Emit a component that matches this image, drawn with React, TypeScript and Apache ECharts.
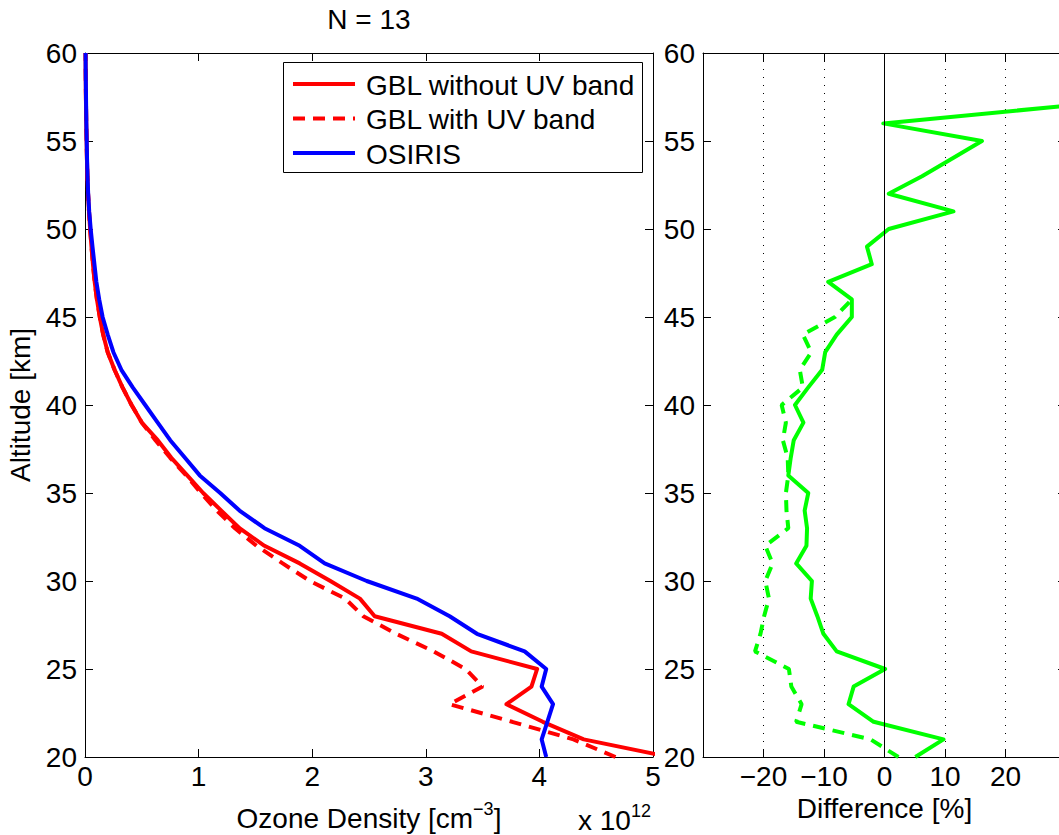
import React, { useEffect, useRef } from "react";
import * as echarts from "echarts";

const FONT = "'Liberation Sans', Arial, Helvetica, sans-serif";
const FS = 28;

// Altitude grid [km]
const altitudes = [20, 21, 22, 23, 24, 25, 26, 27, 28, 29, 30, 31, 32, 33, 34, 35, 36, 37, 38, 39, 40,
  41, 42, 43, 44, 45, 46, 47, 48, 49, 50, 51, 52, 53, 54, 55, 56, 57, 58, 59, 60];

// Ozone density [x1e12 cm^-3], alt 20 -> 60
const gblNoUV = [5.15, 4.39, 4.03, 3.71, 3.93, 3.98, 3.40, 3.14, 2.55, 2.42, 2.16, 1.89, 1.58, 1.36, 1.20,
  1.04, 0.90, 0.76, 0.64, 0.50, 0.41, 0.33, 0.26, 0.20, 0.16, 0.13, 0.105, 0.085, 0.07, 0.057, 0.045,
  0.035, 0.027, 0.021, 0.017, 0.014, 0.011, 0.009, 0.007, 0.006, 0.005];
const gblUV = [4.67, 4.30, 3.76, 3.21, 3.50, 3.35, 3.07, 2.74, 2.45, 2.29, 1.98, 1.74, 1.51, 1.32, 1.16,
  1.02, 0.89, 0.75, 0.62, 0.50, 0.41, 0.33, 0.26, 0.20, 0.16, 0.13, 0.105, 0.085, 0.07, 0.057, 0.045,
  0.035, 0.027, 0.021, 0.017, 0.014, 0.011, 0.009, 0.007, 0.006, 0.005];
const osiris = [4.06, 4.02, 4.07, 4.12, 4.02, 4.06, 3.87, 3.45, 3.21, 2.92, 2.48, 2.11, 1.89, 1.58, 1.36,
  1.19, 1.01, 0.88, 0.75, 0.64, 0.53, 0.42, 0.32, 0.25, 0.20, 0.155, 0.125, 0.10, 0.083, 0.066, 0.05,
  0.037, 0.028, 0.022, 0.018, 0.015, 0.012, 0.010, 0.008, 0.006, 0.005];

// Difference [%]
const diffAltNoUV = [20, 21, 22, 23, 24, 25, 26, 27, 28, 29, 30, 31, 32, 33, 34, 35, 36, 37, 38, 39, 40,
  41, 42, 43, 44, 45, 46, 47, 48, 49, 50, 51, 52, 53, 54, 55, 56, 57];
const diffNoUV = [5.1, 9.75, -1.8, -5.95, -5.1, 0.1, -7.9, -10.1, -11.1, -12.2, -12.0, -14.6, -12.9, -12.8,
  -13.2, -12.6, -15.9, -15.5, -15.0, -13.4, -14.8, -12.6, -10.3, -9.8, -7.9, -5.4, -5.4, -9.3, -2.1, -2.9,
  0.7, 11.4, 0.7, 6.2, 11.2, 16.1, -0.2, 30];
const diffAltUV = [20, 21, 22, 23, 24, 25, 26, 27, 28, 29, 30, 31, 32, 33, 34, 35, 36, 37, 38, 39, 40,
  41, 42, 43, 44, 45, 46];
const diffUV = [2.3, -2.3, -14.6, -13.7, -15.4, -15.8, -21.4, -20.5, -19.9, -19.1, -19.7, -18.5, -19.7,
  -15.9, -16.2, -16.3, -15.9, -16.0, -16.8, -16.3, -17.0, -13.5, -14.0, -12.1, -13.5, -8.2, -5.4];

const legendNames = ["GBL without UV band", "GBL with UV band", "OSIRIS"];

const RED = "#ff0000";
const BLUE = "#0000ff";
const GREEN = "#00ff00";
const LW = 4;
const DASH = [12, 8];

const pairs = (xs: number[], ys: number[]) => ys.map((y, i) => [xs[i], y]);

const axisBase = (extra: any = {}) => ({
  type: "value",
  axisLine: { show: true, onZero: false, lineStyle: { color: "#000", width: 1 } },
  axisTick: { show: true, inside: true, length: 8, lineStyle: { color: "#000", width: 1 } },
  splitLine: { show: false },
  axisLabel: { show: true, color: "#000", fontSize: FS, fontFamily: FONT, margin: 8 },
  ...extra,
});

const noLabel = { show: false };

const legendItems = [
  { name: legendNames[0], color: RED, dash: null as number[] | null },
  { name: legendNames[1], color: RED, dash: DASH },
  { name: legendNames[2], color: BLUE, dash: null as number[] | null },
];

export default function App() {
  const ref = useRef<HTMLDivElement>(null);
  useEffect(() => {
    if (!ref.current) return;
    const chart = echarts.init(ref.current, undefined, { renderer: "svg" });

    const legendGraphic: any[] = [
      {
        type: "rect", shape: { x: 283.5, y: 62.5, width: 359, height: 110 },
        style: { fill: "#fff", stroke: "#000", lineWidth: 1 }, z: 100,
      },
    ];
    legendItems.forEach((it, i) => {
      const cy = 84 + i * 34.5;
      legendGraphic.push({
        type: "line", shape: { x1: 293, y1: cy, x2: 355, y2: cy }, z: 101,
        style: { stroke: it.color, lineWidth: LW, lineDash: it.dash || undefined },
      });
      legendGraphic.push({
        type: "text", x: 366, y: cy + 1, z: 101,
        style: { text: it.name, fontSize: FS, fontFamily: FONT, fill: "#000", align: "left", verticalAlign: "middle" },
      });
    });

    const option: any = {
      animation: false,
      backgroundColor: "#fff",
      textStyle: { fontFamily: FONT },
      grid: [
        { left: 85, top: 53, width: 568, height: 704, outerBoundsMode: "none", containLabel: false },
        { left: 703, top: 53, width: 363, height: 704, outerBoundsMode: "none", containLabel: false },
      ],
      xAxis: [
        axisBase({
          gridIndex: 0, min: 0, max: 5, interval: 1, position: "bottom",
          axisLabel: { show: true, color: "#000", fontSize: FS, fontFamily: FONT, margin: 5 },
          name: "{a|Ozone Density [cm}{s|\u22123}{a|]}",
          nameLocation: "middle",
          nameGap: 43,
          nameTextStyle: {
            color: "#000",
            fontFamily: FONT,
            rich: {
              a: { fontSize: FS, lineHeight: 32, verticalAlign: "bottom", fontFamily: FONT, color: "#000" },
              s: { fontSize: 18, lineHeight: 22, padding: [0, 0, 18, 0], verticalAlign: "top", fontFamily: FONT, color: "#000" },
            },
          },
        }),
        axisBase({ gridIndex: 0, min: 0, max: 5, interval: 1, position: "top", axisLabel: noLabel }),
        axisBase({
          gridIndex: 1, min: -30, max: 30, interval: 10, position: "bottom",
          splitLine: { show: true, lineStyle: { color: "#000", width: 1, type: [1, 7] } },
          axisLabel: {
            show: true, color: "#000", fontSize: FS, fontFamily: FONT, margin: 5,
            formatter: (v: number) => (v <= -30 || v >= 30 ? "" : String(v).replace("-", "\u2212")),
          },
          name: "Difference [%]",
          nameLocation: "middle",
          nameGap: 33,
          nameTextStyle: { color: "#000", fontSize: FS, fontFamily: FONT },
        }),
        axisBase({ gridIndex: 1, min: -30, max: 30, interval: 10, position: "top", axisLabel: noLabel }),
      ],
      yAxis: [
        axisBase({
          gridIndex: 0, min: 20, max: 60, interval: 5, position: "left",
          name: "Altitude [km]", nameLocation: "middle", nameGap: 49, nameRotate: 90,
          nameTextStyle: { color: "#000", fontSize: FS, fontFamily: FONT },
        }),
        axisBase({ gridIndex: 0, min: 20, max: 60, interval: 5, position: "right", axisLabel: noLabel }),
        axisBase({ gridIndex: 1, min: 20, max: 60, interval: 5, position: "left" }),
        axisBase({ gridIndex: 1, min: 20, max: 60, interval: 5, position: "right", axisLabel: noLabel }),
      ],
      graphic: [
        {
          type: "text", x: 369, y: 5,
          style: { text: "N = 13", fontSize: FS, fontFamily: FONT, fill: "#000", align: "center", verticalAlign: "top" },
        },
        {
          type: "text", x: 578, y: 802,
          style: {
            text: "{a|x 10}{s|12}", fill: "#000", verticalAlign: "top",
            rich: {
              a: { fontSize: FS, lineHeight: 32, verticalAlign: "bottom", fontFamily: FONT, fill: "#000" },
              s: { fontSize: 18, lineHeight: 22, padding: [0, 0, 18, 0], verticalAlign: "top", fontFamily: FONT, fill: "#000" },
            },
          },
        },
        ...legendGraphic,
      ],
      series: [
        {
          name: legendNames[0], type: "line", xAxisIndex: 0, yAxisIndex: 0,
          data: pairs(gblNoUV, altitudes), symbol: "none", showSymbol: false, clip: true,
          lineStyle: { color: RED, width: LW, join: "round" }, itemStyle: { color: RED },
        },
        {
          name: legendNames[1], type: "line", xAxisIndex: 0, yAxisIndex: 0,
          data: pairs(gblUV, altitudes), symbol: "none", showSymbol: false, clip: true,
          lineStyle: { color: RED, width: LW, type: DASH }, itemStyle: { color: RED },
        },
        {
          name: legendNames[2], type: "line", xAxisIndex: 0, yAxisIndex: 0,
          data: pairs(osiris, altitudes), symbol: "none", showSymbol: false, clip: true,
          lineStyle: { color: BLUE, width: LW, join: "round" }, itemStyle: { color: BLUE },
        },
        {
          name: "Difference without UV band", type: "line", xAxisIndex: 2, yAxisIndex: 2,
          data: pairs(diffNoUV, diffAltNoUV), symbol: "none", showSymbol: false, clip: true,
          lineStyle: { color: GREEN, width: LW, join: "round" }, itemStyle: { color: GREEN },
          markLine: {
            silent: true, symbol: "none", label: { show: false },
            lineStyle: { color: "#000", type: "solid", width: 1 },
            data: [{ xAxis: 0 }],
          },
        },
        {
          name: "Difference with UV band", type: "line", xAxisIndex: 2, yAxisIndex: 2,
          data: pairs(diffUV, diffAltUV), symbol: "none", showSymbol: false, clip: true,
          lineStyle: { color: GREEN, width: LW, type: DASH }, itemStyle: { color: GREEN },
        },
      ],
    };
    chart.setOption(option);
    return () => chart.dispose();
  }, []);
  return (
    <div style={{ position: "fixed", left: 0, top: 0, width: 1059, height: 835, overflow: "hidden", background: "#fff" }}>
      <div ref={ref} style={{ position: "absolute", left: 0, top: 0, width: 1075, height: 835 }} />
    </div>
  );
}
